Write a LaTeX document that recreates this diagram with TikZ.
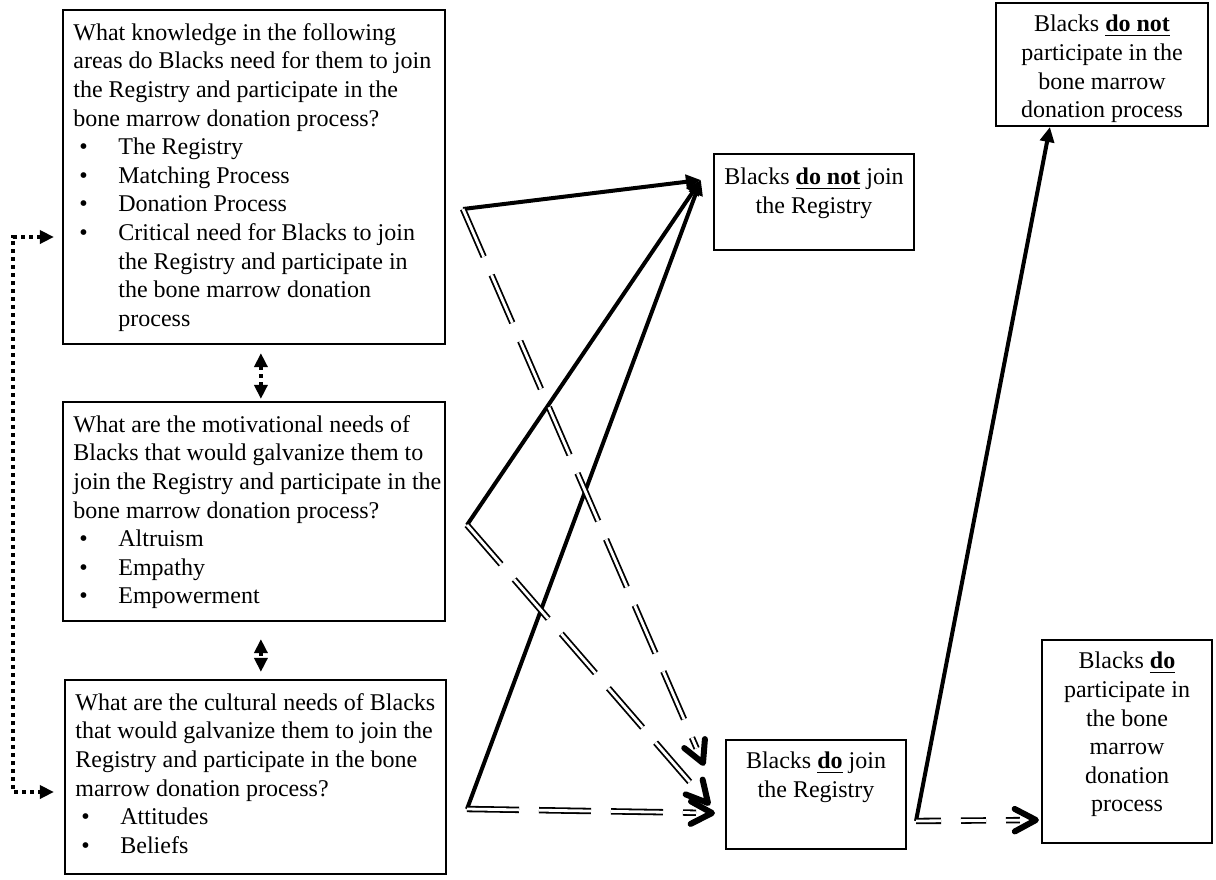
\documentclass[tikz,border=0pt]{standalone}
\usepackage{fontspec}
\setmainfont{Liberation Serif}
\usetikzlibrary{arrows.meta,calc,fit}

\newcommand\qfont{\fontsize{12}{14.3}\selectfont}
\newcommand\bitem{\makebox[22.5pt][l]{\hspace{3pt}\textbullet}}
\newcommand\bcont{\hspace*{22.5pt}}
% open chevron head: #1 = tip, #2 = point the link comes from
\newcommand\chevhead[2]{\draw[chevron] ($(#1)!12pt!28:(#2)$) -- (#1) -- ($(#1)!12pt!-28:(#2)$);}

\begin{document}
\begin{tikzpicture}[x=0.5pt,y=-0.5pt,
  frame/.style={draw, line width=1.1pt, inner sep=0pt},
  qtext/.style={anchor=north west, align=left, inner sep=0pt, font=\qfont},
  otext/.style={anchor=north, align=center, inner sep=0pt, font=\qfont},
  solidlink/.style={line width=2pt, -{Triangle[length=7.5pt,width=7pt]}},
  dbllink/.style={double, double distance=1.4pt, line width=0.9pt, dash pattern=on 26pt off 10pt},
  chevron/.style={line width=3pt, line cap=round, line join=round},
  dotlink/.style={line width=2pt, dash pattern=on 2pt off 2pt,
    {Triangle[length=7pt,width=6.5pt]}-{Triangle[length=7pt,width=6.5pt]}},
]
\useasboundingbox (0,0) rectangle (1216,879);

% ---- question boxes ----
\node[frame, fit={(63,10) (445,344)}] (q1) {};
\node[qtext] (q1t) at (73,23) {What knowledge in the following\\
areas do Blacks need for them to join\\
the Registry and participate in the\\
bone marrow donation process?\\
\bitem The Registry\\
\bitem Matching Process\\
\bitem Donation Process\\
\bitem Critical need for Blacks to join\\
\bcont the Registry and participate in\\
\bcont the bone marrow donation\\
\bcont process};

\node[frame, fit={(63,402) (445,621)}] (q2) {};
\node[qtext] (q2t) at (73,415) {What are the motivational needs of\\
Blacks that would galvanize them to\\
join the Registry and participate in the\\
bone marrow donation process?\\
\bitem Altruism\\
\bitem Empathy\\
\bitem Empowerment};

\node[frame, fit={(65,680) (446,874)}] (q3) {};
\node[qtext] (q3t) at (75,693) {What are the cultural needs of Blacks\\
that would galvanize them to join the\\
Registry and participate in the bone\\
marrow donation process?\\
\bitem Attitudes\\
\bitem Beliefs};

% ---- outcome boxes (text set from the top) ----
\node[frame, fit={(714,154) (914,250)}] (nojoin) {};
\node[otext] at ($(nojoin.north)+(0,15)$) {Blacks \textbf{\underline{do not}} join\\the Registry};

\node[frame, fit={(726,740) (906,849)}] (join) {};
\node[otext] at ($(join.north)+(0,13)$) {Blacks \textbf{\underline{do}} join\\the Registry};

\node[frame, fit={(996,3) (1208,126)}] (nopart) {};
\node[otext] at ($(nopart.north)+(0,13)$) {Blacks \textbf{\underline{do not}}\\participate in the\\bone marrow\\donation process};

\node[frame, fit={(1042,640) (1212,843)}] (part) {};
\node[otext] at ($(part.north)+(0,13)$) {Blacks \textbf{\underline{do}}\\participate in\\the bone\\marrow\\donation\\process};

% ---- link ports ----
\coordinate (s1) at (463,209);
\coordinate (s2) at (467,525);
\coordinate (s3) at (467,809);
\coordinate (s4) at (916,821);
\coordinate (tnj) at ($(nojoin.west |- 0,180)+(-12,0)$);
\coordinate (c1) at (703,763);
\coordinate (c2) at (708,803);
\coordinate (c3) at (712,813);
\coordinate (tnp) at ($(nopart.south west |- 0,127)+(55,0)$);
\coordinate (c4) at ($(part.west |- 0,820)+(-5,0)$);

% ---- dotted links between the questions ----
\draw[dotlink] ($(q1.south west)+(199,8)$) -- ($(q2.north west)+(199,-2)$);
\draw[dotlink] ($(q2.south west)+(199,17)$) -- ($(q3.north west)+(197,-7)$);
\draw[dotlink] ($(q1.west |- 0,237)+(-8,0)$) -- (13,237) -- (13,792) -- ($(q3.west |- 0,792)+(-10,0)$);

% ---- "do not join" links ----
\draw[solidlink] (s1) -- (tnj);
\draw[solidlink] (s2) -- (tnj);
\draw[solidlink] (s3) -- (tnj);

% ---- "do join" links ----
\draw[dbllink] (s1) -- ($(c1)!8pt!(s1)$);
\chevhead{c1}{s1}
\draw[dbllink] (s2) -- ($(c2)!8pt!(s2)$);
\chevhead{c2}{s2}
\draw[dbllink] (s3) -- ($(c3)!8pt!(s3)$);
\chevhead{c3}{s3}

% ---- participation links ----
\draw[solidlink] (s4) -- (tnp);
\draw[dbllink, dash pattern=on 12.5pt off 10pt] (s4) -- ($(c4)!8pt!(s4)$);
\chevhead{c4}{s4}
\end{tikzpicture}
\end{document}
